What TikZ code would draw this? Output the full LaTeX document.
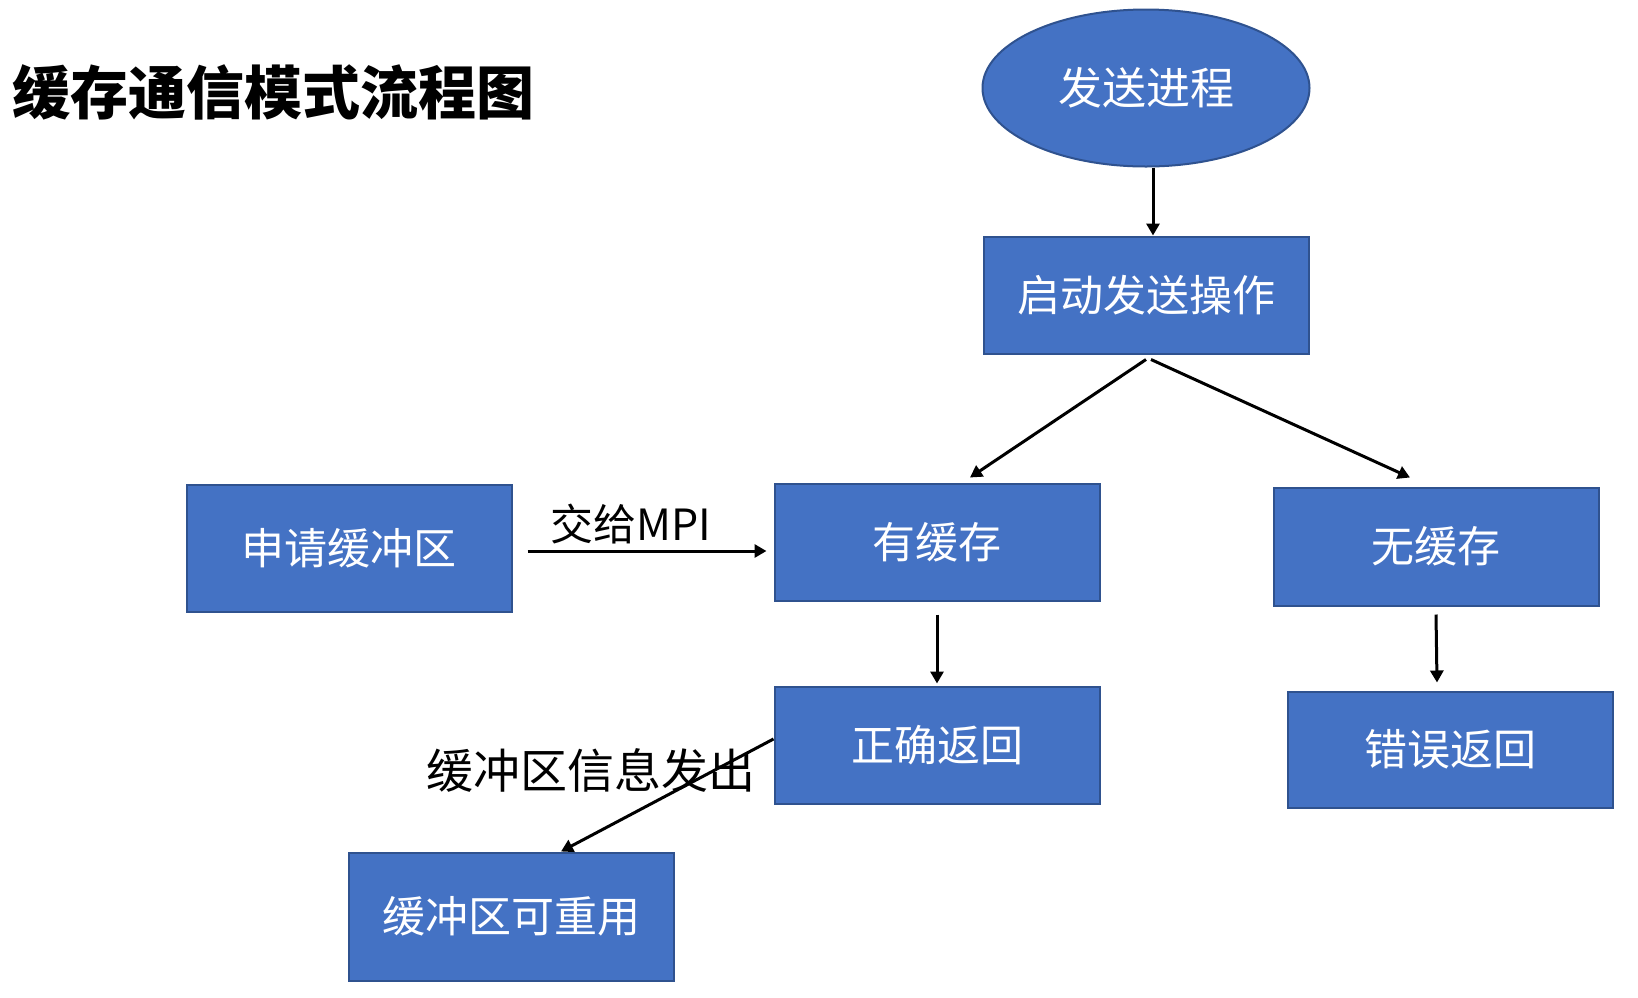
\documentclass[tikz,border=0pt]{standalone}
\usepackage{fontspec}
\setmainfont{Noto Sans CJK SC}
\usetikzlibrary{arrows.meta,positioning,shapes.geometric}
\definecolor{Fill}{HTML}{4472C4}
\definecolor{Edge}{HTML}{2F528F}

\begin{document}
\begin{tikzpicture}[x=1pt,y=-1pt,
    block/.style={rectangle,draw=Edge,line width=2pt,fill=Fill,text=white,minimum width=325pt,minimum height=117pt,inner sep=0pt,align=center,font=\fontsize{43}{50}\selectfont},
    startnode/.style={ellipse,draw=Edge,line width=2pt,fill=Fill,text=white,minimum width=327pt,minimum height=157pt,inner sep=0pt,font=\fontsize{44}{50}\selectfont},
    arrow/.style={-{Triangle[length=12pt,width=13pt]},line width=3pt,draw=black},
    lbl/.style={inner sep=0pt,text=black}
]
\useasboundingbox (0,0) rectangle (1638,997);
\node[anchor=west,inner sep=0pt,font=\fontsize{58}{64}\selectfont\bfseries] (title) at (12,92) {缓存通信模式流程图};
\node[startnode] (proc) at (1146,88) {发送进程};
\node[block,below=68pt of proc] (start) {启动发送操作};
\node[block,below=128pt of start,xshift=-209pt] (buf) {有缓存};
\node[block,below=132pt of start,xshift=290pt,minimum height=118pt] (nobuf) {无缓存};
\node[block,below=84pt of buf] (ok) {正确返回};
\node[block,below=84pt of nobuf,xshift=14pt,minimum height=116pt] (err) {错误返回};
\node[block,left=261pt of buf,yshift=-6pt,minimum height=127pt] (req) {申请缓冲区};
\node[block,below=47pt of ok,xshift=-426pt,minimum height=128pt] (reuse) {缓冲区可重用};
\node[lbl,font=\fontsize{43}{50}\selectfont] (give) at (631,524) {交给MPI};
\node[lbl,font=\fontsize{47}{54}\selectfont] (send) at (591,770) {缓冲区信息发出};
\draw[arrow] ([xshift=7pt]proc.south) -- ([xshift=7pt]start.north);
\draw[arrow] ([yshift=-5pt]start.south) -- ([xshift=33pt,yshift=5pt]buf.north);
\draw[arrow] ([xshift=5pt,yshift=-5pt]start.south) -- ([xshift=-26pt,yshift=9pt]nobuf.north);
\draw[arrow] ([xshift=15pt,yshift=-3pt]req.east) -- ([xshift=-7pt,yshift=-9pt]buf.west);
\draw[arrow] ([yshift=-13pt]buf.south) -- ([yshift=2pt]ok.north);
\draw[arrow] ([yshift=-8pt]nobuf.south) -- ([xshift=-13pt,yshift=8pt]err.north);
\draw[arrow] ([yshift=6pt]ok.west) -- ([xshift=50pt]reuse.north);
\end{tikzpicture}
\end{document}
